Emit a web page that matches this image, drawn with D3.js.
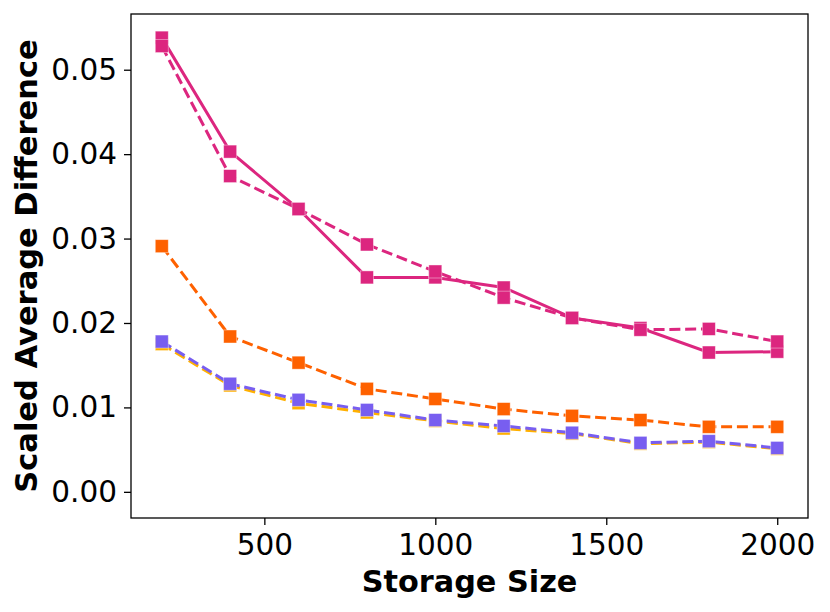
<!DOCTYPE html>
<html><head><meta charset="utf-8">
<script src="https://cdn.jsdelivr.net/npm/d3@7"></script>
<style>body{margin:0;background:#fff}svg{display:block}text{font-family:"DejaVu Sans",sans-serif}</style>
</head><body>
<script>
const storageSizes = [200,400,600,800,1000,1200,1400,1600,1800,2000];
const pinkSolid  = [0.0538,0.0403,0.0335,0.0254,0.0254,0.0242,0.0206,0.0194,0.0165,0.0166];
const pinkDashed = [0.0528,0.0374,0.0335,0.0293,0.0261,0.0230,0.0206,0.0192,0.0193,0.0178];
const orangeDashed = [0.0291,0.0184,0.0153,0.0122,0.0110,0.0098,0.0090,0.0085,0.0077,0.0077];
const yellowDashed = [0.0175,0.0126,0.0105,0.0094,0.0084,0.0075,0.0069,0.0057,0.0059,0.0051];
const purpleDashed = [0.0178,0.0128,0.0109,0.0097,0.0085,0.0078,0.0070,0.0058,0.0060,0.0052];
const xTicks = [500,1000,1500,2000];
const yTicks = [0,0.01,0.02,0.03,0.04,0.05];

const series = [
  {values: pinkSolid, color: "#DC267F", dash: null},
  {values: pinkDashed, color: "#DC267F", dash: "11,4.8"},
  {values: orangeDashed, color: "#FE6100", dash: "11,4.8"},
  {values: yellowDashed, color: "#FFB000", dash: "11,4.8"},
  {values: purpleDashed, color: "#785EF0", dash: "11,4.8"}
];

const W = 830, H = 612;
const m = {l:131, r:808, t:14, b:518};
const svg = d3.select("body").append("svg").attr("width", W).attr("height", H);

const x = d3.scaleLinear().domain([110, 2090]).range([m.l, m.r]);
const y = d3.scaleLinear().domain([-0.0031, 0.0566]).range([m.b, m.t]);

const line = d3.line().x((d,i)=>x(storageSizes[i])).y(d=>y(d));

series.forEach(s => {
  svg.append("path").datum(s.values)
    .attr("d", line).attr("fill","none")
    .attr("stroke", s.color).attr("stroke-width", 3)
    .attr("stroke-dasharray", s.dash);
  svg.append("g").selectAll("rect").data(s.values).join("rect")
    .attr("x",(d,i)=>x(storageSizes[i])-6.5).attr("y",d=>y(d)-6.5)
    .attr("width",13).attr("height",13)
    .attr("fill", s.color).attr("stroke","#fff").attr("stroke-opacity",0.5).attr("stroke-width",0.8);
});

const xAxis = d3.axisBottom(x).tickValues(xTicks).tickSize(7).tickPadding(9).tickFormat(d3.format("d"));
const gx = svg.append("g").attr("transform",`translate(0,${m.b})`).call(xAxis);
gx.select(".domain").remove();
gx.selectAll("line").attr("stroke","#000").attr("stroke-width",1.3);
gx.selectAll("text").attr("font-size","29.5px").attr("fill","#000");

const yAxis = d3.axisLeft(y).tickValues(yTicks).tickSize(7).tickPadding(7).tickFormat(d3.format(".2f"));
const gy = svg.append("g").attr("transform",`translate(${m.l},0)`).call(yAxis);
gy.select(".domain").remove();
gy.selectAll("line").attr("stroke","#000").attr("stroke-width",1.3);
gy.selectAll("text").attr("font-size","29.5px").attr("fill","#000");

svg.append("rect").attr("x",m.l).attr("y",m.t).attr("width",m.r-m.l).attr("height",m.b-m.t)
  .attr("fill","none").attr("stroke","#000").attr("stroke-width",1.3);

svg.append("text").attr("x",(m.l+m.r)/2).attr("y",592).attr("text-anchor","middle")
  .attr("font-size","30.3px").attr("font-weight","bold").text("Storage Size");
svg.append("text").attr("transform",`translate(37,${(m.t+m.b)/2}) rotate(-90)`).attr("text-anchor","middle")
  .attr("font-size","30.5px").attr("font-weight","bold").text("Scaled Average Difference");
</script>
</body></html>
